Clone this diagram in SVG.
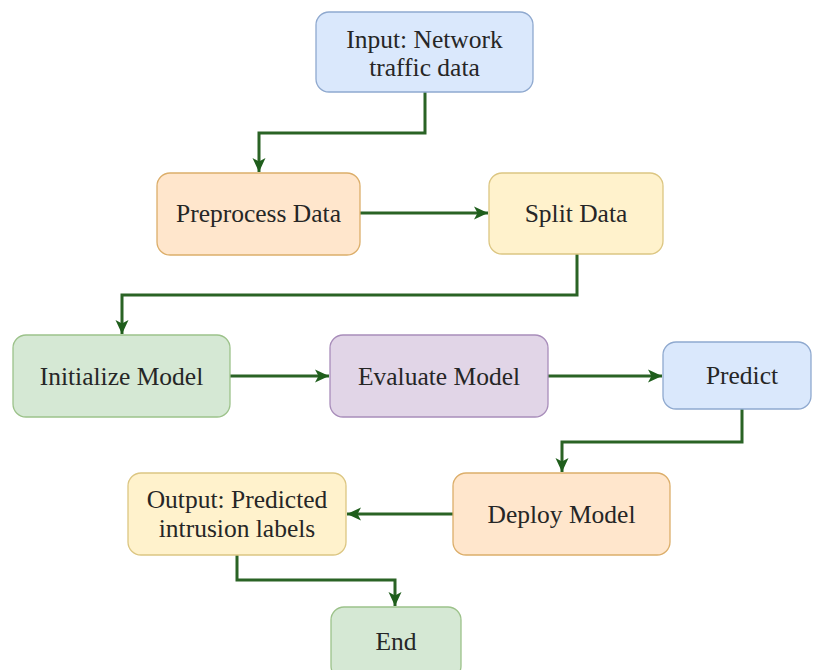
<svg xmlns="http://www.w3.org/2000/svg" width="813" height="670" viewBox="0 0 813 670">
<defs>
<style>
.node rect{stroke-width:1.3}
.blue rect{fill:#dae8fc;stroke:#8fa9cf}
.orange rect{fill:#ffe6cc;stroke:#dcae6a}
.yellow rect{fill:#fff2cc;stroke:#dcc682}
.green rect{fill:#d5e8d4;stroke:#9cc28a}
.purple rect{fill:#e1d5e7;stroke:#a88dba}
.node text{font-size:25.5px;fill:#262626;text-anchor:middle;dominant-baseline:central}
.edge{fill:none;stroke:#2a6325;stroke-width:3;marker-end:url(#ah)}
</style>
<marker id="ah" markerUnits="userSpaceOnUse" markerWidth="16" markerHeight="16" viewBox="0 0 16 16" refX="15" refY="8" orient="auto">
<path d="M1,1.5 L15,8 L1,14.5 L4.5,8 Z" fill="#1f5e1c"/>
</marker>
</defs>
<rect width="813" height="670" fill="#ffffff"/>
<g id="connectors">
<path class="edge" d="M425,92 V133 H259 V172"/>
<path class="edge" d="M360,213 H488"/>
<path class="edge" d="M577,254 V295 H122 V334"/>
<path class="edge" d="M230,376 H329"/>
<path class="edge" d="M548,376 H662"/>
<path class="edge" d="M742,409 V442 H562 V472"/>
<path class="edge" d="M453,514 H347"/>
<path class="edge" d="M237,555 V580 H395 V606"/>
</g>
<g font-family="Liberation Serif, DejaVu Serif, serif">
<g id="input" class="node blue">
<rect x="316" y="12" width="217" height="80" rx="13"/>
<text x="424.5" y="39">Input: Network</text>
<text x="424.5" y="67">traffic data</text>
</g>
<g id="preprocess" class="node orange">
<rect x="157" y="173" width="203" height="82" rx="13"/>
<text x="258.5" y="213">Preprocess Data</text>
</g>
<g id="split" class="node yellow">
<rect x="489" y="173" width="174" height="81" rx="13"/>
<text x="576" y="213">Split Data</text>
</g>
<g id="initialize" class="node green">
<rect x="13" y="335" width="217" height="82" rx="13"/>
<text x="121.5" y="376">Initialize Model</text>
</g>
<g id="evaluate" class="node purple">
<rect x="330" y="335" width="218" height="82" rx="13"/>
<text x="439" y="376">Evaluate Model</text>
</g>
<g id="predict" class="node blue">
<rect x="663" y="342" width="148" height="67" rx="13"/>
<text x="742" y="375">Predict</text>
</g>
<g id="deploy" class="node orange">
<rect x="453" y="473" width="217" height="82" rx="13"/>
<text x="561.5" y="514">Deploy Model</text>
</g>
<g id="output" class="node yellow">
<rect x="128" y="473" width="218" height="82" rx="13"/>
<text x="237" y="499">Output: Predicted</text>
<text x="237" y="528">intrusion labels</text>
</g>
<g id="end" class="node green">
<rect x="331" y="607" width="130" height="72" rx="13"/>
<text x="396" y="641">End</text>
</g>
</g>
</svg>
